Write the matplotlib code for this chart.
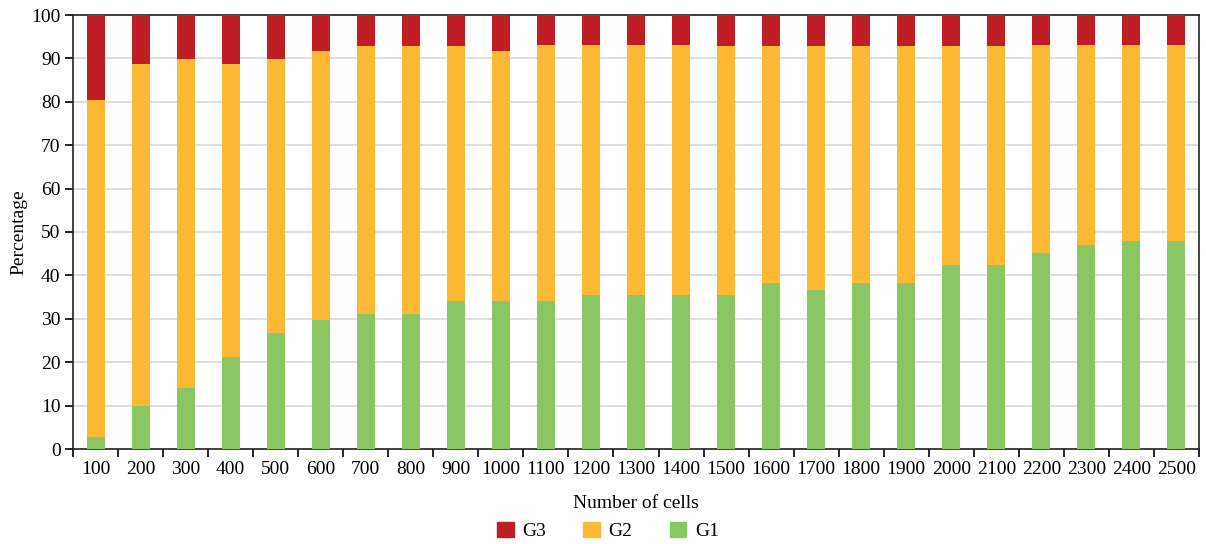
import matplotlib
matplotlib.use("Agg")
import matplotlib.pyplot as plt
import numpy as np
from matplotlib.patches import Patch

categories = ["100", "200", "300", "400", "500", "600", "700", "800", "900", "1000",
              "1100", "1200", "1300", "1400", "1500", "1600", "1700", "1800", "1900",
              "2000", "2100", "2200", "2300", "2400", "2500"]
g1 = [2.8, 10.0, 14.1, 21.3, 26.8, 29.8, 31.0, 31.0, 34.0, 34.0, 34.0, 35.4, 35.4, 35.4,
      35.4, 38.3, 36.7, 38.3, 38.3, 42.5, 42.5, 45.2, 46.9, 48.0, 48.0]
g1g2_top = [80.3, 88.6, 89.8, 88.6, 89.8, 91.6, 92.8, 92.8, 92.8, 91.6, 93.0, 93.0, 93.0,
            93.0, 92.8, 92.8, 92.8, 92.8, 92.8, 92.8, 92.8, 93.0, 93.0, 93.0, 93.0]
g2 = [t - a for t, a in zip(g1g2_top, g1)]
g3 = [100 - t for t in g1g2_top]

c_g1 = "#8BC665"
c_g2 = "#FDB933"
c_g3 = "#BE1E24"

plt.rcParams['font.family'] = ['Liberation Serif', 'DejaVu Serif']
fs = 14

fig = plt.figure(figsize=(12.06, 5.44), dpi=100)
ax = fig.add_axes([73/1206, 1 - 449/544, (1199-73)/1206, (449-15)/544])

x = np.arange(len(categories))
w = 0.4
ax.bar(x, g1, width=w, color=c_g1, zorder=3)
ax.bar(x, g2, width=w, bottom=g1, color=c_g2, zorder=3)
ax.bar(x, g3, width=w, bottom=g1g2_top, color=c_g3, zorder=3)

ax.set_xlim(-0.5, len(categories) - 0.5)
ax.set_ylim(0, 100)
ax.set_yticks(np.arange(0, 101, 10))
ax.yaxis.grid(True, color="#D9D9D9", linewidth=1.2, zorder=0)
ax.set_axisbelow(True)

ax.set_xticks(x)
ax.set_xticklabels(categories, fontsize=fs)
ax.tick_params(axis='x', which='major', length=0, pad=9)
ax.set_xticks(np.arange(-0.5, len(categories), 1), minor=True)
ax.tick_params(axis='x', which='minor', length=6, width=1.2, direction='out')
ax.tick_params(axis='y', length=6, width=1.2, direction='out', labelsize=fs, pad=3)

for s in ax.spines.values():
    s.set_color("#222222")
    s.set_linewidth(1.2)

ax.set_ylabel("Percentage", fontsize=fs, labelpad=3)
ax.set_xlabel("Number of cells", fontsize=fs, labelpad=12)

handles = [Patch(color=c_g3, label="G3"), Patch(color=c_g2, label="G2"), Patch(color=c_g1, label="G1")]
fig.legend(handles=handles, loc='center', bbox_to_anchor=(608/1206, 1 - 531/544), ncol=3,
           frameon=False, fontsize=fs, handlelength=0.85, handleheight=0.85,
           columnspacing=1.9, handletextpad=0.45)

fig.savefig("out.png", dpi=100)
